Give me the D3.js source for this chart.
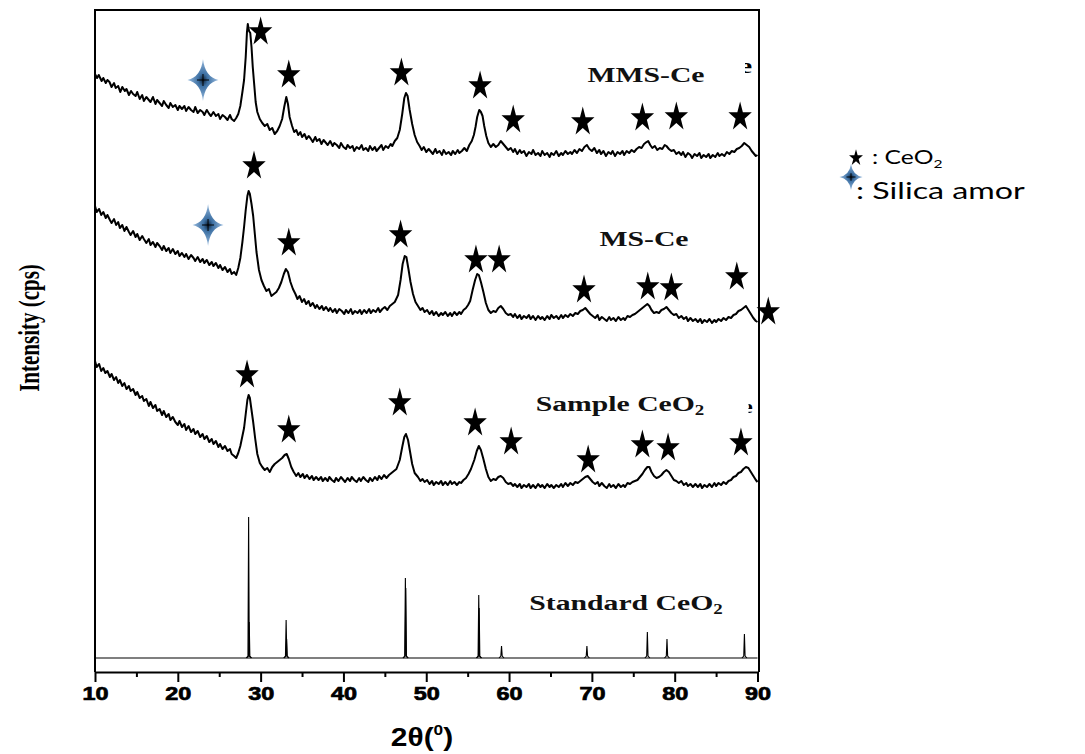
<!DOCTYPE html>
<html>
<head>
<meta charset="utf-8">
<script src="https://cdn.jsdelivr.net/npm/d3@7"></script>
<style>
  body { margin: 0; background: #fff; }
  svg { display: block; }
</style>
</head>
<body>
<div id="chart"></div>
<script>
// XRD patterns, [2theta, intensity a.u.] (stacked, offsets included)
var mmsCe = [[10.0,598],[10.25,594],[10.45,597],[10.8,591],[11.0,594],[11.3,589],[11.5,592],[11.75,590],[12.0,585],[12.3,589],
  [12.5,584],[12.8,586],[13.05,580],[13.3,585],[13.6,581],[13.8,583],[14.1,577],[14.35,581],[14.6,578],[14.9,576],
  [15.1,580],[15.4,573],[15.7,577],[15.9,571],[16.2,575],[16.5,572],[16.7,570],[17.0,575],[17.3,568],[17.5,572],
  [17.8,569],[18.1,566],[18.3,571],[18.6,567],[18.9,564],[19.1,569],[19.4,565],[19.7,567],[20.0,562],[20.2,566],
  [20.5,563],[20.8,566],[21.0,561],[21.3,565],[21.6,562],[21.9,560],[22.1,565],[22.4,559],[22.7,562],[23.0,560],
  [23.2,557],[23.5,562],[23.8,558],[24.0,556],[24.3,560],[24.6,556],[24.9,558],[25.1,553],[25.4,557],[25.7,555],
  [26.0,552],[26.3,557],[26.5,553],[26.8,551],[27.05,554],[27.3,558],[27.55,566],[27.8,580],[28.0,592],[28.2,615],
  [28.35,640],[28.45,648],[28.6,641],[28.75,639],[28.9,625],[29.05,605],[29.2,590],[29.4,570],[29.6,560],[29.9,553],
  [30.2,549],[30.5,546],[30.8,548],[31.1,542],[31.4,544],[31.7,538],[32.0,541],[32.3,546],[32.6,553],[32.85,565],
  [33.1,575],[33.3,568],[33.5,555],[33.8,546],[34.05,540],[34.3,542],[34.55,537],[34.8,540],[35.0,535],[35.3,538],
  [35.55,533],[35.8,536],[36.0,534],[36.3,530],[36.6,535],[36.8,531],[37.1,533],[37.35,528],[37.6,532],[37.9,529],
  [38.1,527],[38.4,531],[38.7,526],[38.9,529],[39.2,527],[39.5,524],[39.7,529],[40.0,525],[40.3,523],[40.5,527],
  [40.8,524],[41.1,526],[41.3,521],[41.6,525],[41.9,523],[42.2,527],[42.4,522],[42.7,524],[43.0,521],[43.2,526],
  [43.5,522],[43.8,525],[44.0,521],[44.3,524],[44.6,527],[44.8,522],[45.1,526],[45.4,524],[45.7,528],[45.9,526],
  [46.2,531],[46.5,534],[46.8,542],[47.1,558],[47.35,574],[47.55,579],[47.75,576],[48.0,562],[48.3,548],[48.6,537],
  [48.9,530],[49.2,526],[49.45,522],[49.7,525],[50.0,520],[50.3,523],[50.5,521],[50.8,518],[51.1,523],[51.3,519],
  [51.6,521],[51.9,517],[52.1,522],[52.4,518],[52.7,520],[53.0,517],[53.2,521],[53.5,518],[53.8,522],[54.0,519],
  [54.3,521],[54.6,524],[54.9,521],[55.2,527],[55.5,531],[55.75,537],[55.95,545],[56.15,555],[56.4,562],[56.6,560],
  [56.8,556],[57.0,546],[57.25,536],[57.5,529],[57.8,525],[58.1,528],[58.4,525],[58.7,527],[59.0,531],[59.3,528],
  [59.6,525],[59.9,522],[60.2,524],[60.5,520],[60.7,523],[61.0,518],[61.3,522],[61.5,519],[61.8,521],[62.1,516],
  [62.4,520],[62.7,518],[62.9,522],[63.2,517],[63.5,519],[63.8,516],[64.0,521],[64.3,517],[64.6,519],[64.9,515],
  [65.1,519],[65.4,517],[65.7,521],[66.0,516],[66.3,519],[66.5,517],[66.8,521],[67.1,518],[67.4,520],[67.6,518],
  [67.9,522],[68.2,519],[68.5,523],[68.8,521],[69.1,525],[69.4,527],[69.7,523],[70.0,521],[70.3,524],[70.6,519],
  [70.9,522],[71.1,518],[71.4,521],[71.7,516],[72.0,520],[72.3,518],[72.5,521],[72.8,516],[73.1,520],[73.4,518],
  [73.7,521],[73.9,517],[74.2,521],[74.5,519],[74.8,522],[75.1,520],[75.4,523],[75.7,525],[76.0,524],[76.3,528],
  [76.6,530],[76.8,531],[77.05,527],[77.3,524],[77.6,526],[77.9,522],[78.2,524],[78.5,523],[78.8,527],[79.0,526],
  [79.3,523],[79.6,521],[79.9,522],[80.2,518],[80.5,520],[80.8,517],[81.0,520],[81.3,515],[81.6,519],[81.9,517],
  [82.1,514],[82.4,518],[82.7,516],[83.0,519],[83.2,514],[83.5,517],[83.8,515],[84.1,518],[84.3,514],[84.6,517],
  [84.9,515],[85.2,519],[85.4,516],[85.7,518],[86.0,516],[86.3,520],[86.6,518],[86.9,521],[87.2,520],[87.5,523],
  [87.8,524],[88.1,526],[88.4,529],[88.7,527],[89.0,525],[89.3,521],[89.6,518],[89.8,516],[90.0,517]];

var msCe = [[10.0,466],[10.2,460],[10.5,463],[10.75,457],[11.0,460],[11.3,454],[11.5,457],[11.8,452],[12.0,449],[12.3,453],
  [12.55,447],[12.8,450],[13.0,444],[13.3,447],[13.55,441],[13.8,445],[14.1,440],[14.3,437],[14.6,441],[14.9,435],
  [15.1,438],[15.4,432],[15.7,436],[15.9,433],[16.2,429],[16.5,433],[16.7,427],[17.0,430],[17.3,425],[17.5,429],
  [17.8,426],[18.1,422],[18.3,426],[18.6,421],[18.9,424],[19.1,419],[19.4,423],[19.7,418],[20.0,421],[20.2,416],
  [20.5,419],[20.8,415],[21.0,418],[21.3,413],[21.6,417],[21.9,414],[22.1,411],[22.4,415],[22.7,410],[23.0,413],
  [23.2,409],[23.5,412],[23.8,407],[24.1,410],[24.3,406],[24.6,409],[24.9,404],[25.1,407],[25.4,402],[25.7,405],
  [26.0,400],[26.3,403],[26.5,398],[26.8,400],[27.05,397],[27.3,404],[27.55,414],[27.8,430],[28.0,445],[28.2,462],
  [28.4,476],[28.55,481],[28.7,478],[28.9,468],[29.1,456],[29.3,438],[29.5,420],[29.8,402],[30.1,392],[30.4,386],
  [30.7,381],[31.0,383],[31.3,376],[31.6,378],[31.9,380],[32.2,384],[32.5,390],[32.8,398],[33.05,403],[33.3,400],
  [33.6,390],[33.9,383],[34.2,378],[34.45,373],[34.7,376],[35.0,370],[35.25,373],[35.5,368],[35.8,371],[36.0,366],
  [36.3,369],[36.6,364],[36.8,367],[37.1,363],[37.4,366],[37.6,362],[37.9,365],[38.2,361],[38.4,364],[38.7,360],
  [39.0,363],[39.2,359],[39.5,363],[39.8,361],[40.1,358],[40.3,362],[40.6,359],[40.9,363],[41.1,358],[41.4,361],
  [41.7,359],[42.0,362],[42.2,358],[42.5,362],[42.8,359],[43.1,363],[43.3,359],[43.6,362],[43.9,360],[44.2,364],
  [44.4,360],[44.7,363],[45.0,365],[45.3,362],[45.6,366],[45.9,368],[46.2,370],[46.6,377],[46.9,392],[47.15,408],
  [47.4,416],[47.6,415],[47.85,403],[48.1,390],[48.4,378],[48.7,370],[49.0,366],[49.3,362],[49.55,364],[49.8,360],
  [50.1,362],[50.4,358],[50.7,361],[50.9,357],[51.2,360],[51.5,356],[51.8,359],[52.0,357],[52.3,360],[52.6,356],
  [52.9,359],[53.1,356],[53.4,360],[53.7,357],[54.0,360],[54.2,358],[54.5,362],[54.8,364],[55.05,367],[55.3,371],
  [55.6,382],[55.9,392],[56.15,398],[56.35,397],[56.6,390],[56.9,380],[57.2,369],[57.5,362],[57.8,359],[58.1,361],
  [58.4,360],[58.7,364],[59.0,366],[59.3,363],[59.6,359],[59.9,357],[60.2,358],[60.5,355],[60.7,358],[61.0,354],
  [61.3,357],[61.5,353],[61.8,356],[62.1,354],[62.4,357],[62.6,353],[62.9,356],[63.2,352],[63.5,356],[63.8,353],
  [64.0,355],[64.3,352],[64.6,356],[64.9,353],[65.1,357],[65.4,354],[65.7,356],[66.0,353],[66.3,357],[66.5,354],
  [66.8,357],[67.1,355],[67.4,358],[67.7,356],[68.0,359],[68.3,358],[68.6,361],[68.9,362],[69.2,364],[69.5,361],
  [69.8,358],[70.1,356],[70.4,354],[70.7,357],[70.9,352],[71.2,355],[71.5,353],[71.8,351],[72.1,355],[72.3,352],
  [72.6,354],[72.9,351],[73.2,355],[73.5,352],[73.8,354],[74.0,352],[74.3,356],[74.6,355],[74.9,357],[75.2,358],
  [75.5,360],[75.8,362],[76.1,364],[76.4,366],[76.7,368],[76.95,366],[77.2,362],[77.5,359],[77.8,360],[78.1,359],
  [78.4,362],[78.7,363],[79.0,365],[79.3,362],[79.6,359],[79.9,357],[80.2,358],[80.5,354],[80.8,356],[81.1,353],
  [81.4,355],[81.6,351],[81.9,354],[82.2,351],[82.5,353],[82.8,350],[83.1,353],[83.3,349],[83.6,352],[83.9,350],
  [84.2,353],[84.5,349],[84.8,352],[85.0,350],[85.3,353],[85.6,351],[85.9,354],[86.2,352],[86.5,355],[86.8,354],
  [87.1,357],[87.4,358],[87.7,361],[88.0,362],[88.3,364],[88.6,366],[88.9,362],[89.2,358],[89.5,354],[89.8,351],
  [90.0,350]];

var sampleCeO2 = [[10.0,311],[10.2,305],[10.5,308],[10.75,301],[11.0,304],[11.25,299],[11.5,301],[11.8,295],[12.0,298],[12.3,292],
  [12.55,295],[12.8,289],[13.0,292],[13.3,286],[13.55,289],[13.8,283],[14.1,286],[14.3,281],[14.6,283],[14.9,277],
  [15.1,280],[15.4,274],[15.7,276],[15.9,271],[16.2,273],[16.5,266],[16.7,270],[17.0,264],[17.3,267],[17.5,261],
  [17.8,263],[18.1,257],[18.3,261],[18.6,255],[18.9,258],[19.1,252],[19.4,255],[19.7,250],[20.0,247],[20.2,251],
  [20.5,245],[20.8,248],[21.0,242],[21.3,246],[21.6,240],[21.9,243],[22.1,238],[22.4,241],[22.7,235],[23.0,238],
  [23.2,233],[23.5,236],[23.8,230],[24.1,233],[24.3,228],[24.6,231],[24.9,225],[25.1,228],[25.4,223],[25.7,226],
  [26.0,221],[26.3,223],[26.5,218],[26.8,216],[27.05,214],[27.3,219],[27.55,226],[27.8,236],[28.0,244],[28.2,258],
  [28.4,272],[28.55,277],[28.7,274],[28.9,262],[29.1,250],[29.35,233],[29.6,218],[29.9,209],[30.2,205],[30.5,202],
  [30.8,204],[31.1,200],[31.4,205],[31.7,208],[32.0,210],[32.3,212],[32.6,214],[32.9,217],[33.15,218],[33.4,213],
  [33.7,205],[34.0,200],[34.3,196],[34.55,199],[34.8,195],[35.1,198],[35.3,194],[35.6,197],[35.9,193],[36.2,196],
  [36.4,192],[36.7,195],[37.0,192],[37.3,195],[37.5,191],[37.8,194],[38.1,191],[38.3,195],[38.6,192],[38.9,190],
  [39.1,194],[39.4,191],[39.7,195],[40.0,192],[40.2,190],[40.5,194],[40.8,191],[41.0,195],[41.3,192],[41.6,190],
  [41.9,194],[42.1,191],[42.4,195],[42.7,192],[43.0,190],[43.2,194],[43.5,191],[43.8,195],[44.1,192],[44.3,196],
  [44.6,193],[44.9,197],[45.2,194],[45.5,197],[45.8,199],[46.1,201],[46.4,203],[46.8,212],[47.1,225],[47.35,235],
  [47.55,238],[47.8,232],[48.05,220],[48.3,208],[48.6,199],[49.0,195],[49.3,191],[49.55,193],[49.8,190],[50.1,192],
  [50.4,188],[50.7,191],[50.9,187],[51.2,190],[51.5,188],[51.8,191],[52.0,187],[52.3,190],[52.6,187],[52.9,191],
  [53.1,188],[53.4,190],[53.7,187],[54.0,190],[54.2,189],[54.5,192],[54.8,194],[55.1,198],[55.4,203],[55.8,212],
  [56.1,221],[56.35,226],[56.6,222],[56.9,213],[57.2,203],[57.5,195],[57.8,191],[58.1,193],[58.4,192],[58.7,195],
  [59.0,196],[59.3,194],[59.6,190],[59.9,188],[60.2,189],[60.5,186],[60.7,188],[61.0,185],[61.3,188],[61.5,184],
  [61.8,187],[62.1,185],[62.4,188],[62.6,184],[62.9,187],[63.2,184],[63.5,188],[63.8,185],[64.0,187],[64.3,184],
  [64.6,188],[64.9,185],[65.1,187],[65.4,184],[65.7,187],[66.0,185],[66.3,188],[66.5,185],[66.8,189],[67.1,186],
  [67.4,189],[67.7,187],[68.0,190],[68.3,189],[68.6,191],[68.9,193],[69.2,195],[69.5,196],[69.8,193],[70.1,190],
  [70.4,188],[70.7,190],[70.9,186],[71.2,189],[71.5,186],[71.8,184],[72.1,188],[72.3,185],[72.6,187],[72.9,184],
  [73.2,188],[73.5,185],[73.8,187],[74.0,185],[74.3,189],[74.6,188],[74.9,190],[75.2,191],[75.5,192],[75.8,195],
  [76.1,198],[76.4,202],[76.7,205],[76.95,205],[77.2,200],[77.5,196],[77.8,194],[78.1,195],[78.4,197],[78.7,200],
  [79.0,202],[79.3,200],[79.6,196],[79.9,192],[80.2,191],[80.5,189],[80.8,191],[81.1,187],[81.4,189],[81.6,186],
  [81.9,188],[82.2,185],[82.5,188],[82.8,185],[83.1,188],[83.3,184],[83.6,187],[83.9,185],[84.2,188],[84.5,185],
  [84.8,189],[85.0,186],[85.3,189],[85.6,187],[85.9,190],[86.2,188],[86.5,191],[86.8,192],[87.1,195],[87.4,196],
  [87.7,199],[88.0,200],[88.3,203],[88.6,205],[88.9,204],[89.2,200],[89.5,196],[89.8,192],[90.0,190]];

// reference pattern: baseline level and line heights above it
var stdBase = 14;
var stdPeaks = [[28.55,141],[28.62,36],[33.08,38],[33.14,19],[47.48,80],[47.53,70],[56.34,63],[56.39,50],
  [59.09,12],[69.40,12],[76.70,26],[79.07,19],[88.42,24]];

// peak markers [2theta, intensity]
var mmsStars = [[30.0,640],[33.4,597],[47.0,599],[56.5,586],[60.5,552],[68.9,550],[76.1,554],[80.2,555],[87.9,555]];
var msStars = [[29.2,506],[33.4,429],[46.9,437],[56.0,412],[58.8,412],[69.05,382],[76.75,385],[79.6,384],[87.5,395],[91.3,360]];
var sampleStars = [[28.36,297],[33.4,242],[46.8,269],[55.9,249],[60.25,230],[69.55,212],[76.1,227],[79.2,224],[88.0,229]];
var silicaMarks = [[23.04,592],[23.65,447]];

var curveLabels = [
  { text: "MMS-Ce", sub: "", x: 646, y: 82 },
  { text: "MS-Ce", sub: "", x: 644, y: 246 },
  { text: "Sample CeO", sub: "2", x: 620, y: 411 },
  { text: "Standard CeO", sub: "2", x: 626, y: 610 }
];

var xTicks = [10, 20, 30, 40, 50, 60, 70, 80, 90];
var xMinorTicks = [15, 25, 35, 45, 55, 65, 75, 85];

var svg = d3.select("#chart")
  .append("svg")
  .attr("width", 1085)
  .attr("height", 754);

var x = d3.scaleLinear().domain([10, 90]).range([95, 757.5]);
var y = d3.scaleLinear().domain([0, 662]).range([672, 10]);

var defs = svg.append("defs");
var grad = defs.append("radialGradient").attr("id", "sparkle");
grad.append("stop").attr("offset", "0%").attr("stop-color", "#0e2238");
grad.append("stop").attr("offset", "30%").attr("stop-color", "#3d70a3");
grad.append("stop").attr("offset", "100%").attr("stop-color", "#9bbde0");

// frame
svg.append("path")
  .attr("d", `M${x(10)},${y(0)}V${y(662)}H${x(90) + 1.5}V${y(0)}`)
  .attr("fill", "none")
  .attr("stroke", "#000")
  .attr("stroke-width", 2);

// x axis
var xAxis = svg.append("g")
  .attr("transform", `translate(0, ${y(0)})`)
  .call(d3.axisBottom(x).tickValues(xTicks).tickSize(10).tickSizeOuter(0).tickFormat(d3.format("d")));
xAxis.attr("font-size", 18).attr("font-family", "'Liberation Sans', Arial, sans-serif");
xAxis.select(".domain").attr("stroke-width", 2);
xAxis.selectAll(".tick line").attr("stroke-width", 2);
xAxis.selectAll(".tick text")
  .attr("y", 15)
  .attr("dy", "0.71em")
  .attr("transform", "scale(1.3,1)")
  .attr("font-weight", "bold")
  .attr("stroke", "#000")
  .attr("stroke-width", 0.7)
  .attr("fill", "#000");

var xMinor = svg.append("g")
  .attr("transform", `translate(0, ${y(0)})`)
  .call(d3.axisBottom(x).tickValues(xMinorTicks).tickSize(5).tickFormat(""));
xMinor.select(".domain").remove();
xMinor.selectAll(".tick line").attr("stroke-width", 2);

// axis titles
var xTitle = svg.append("text")
  .attr("transform", "translate(422, 746) scale(1.15,1)")
  .attr("text-anchor", "middle")
  .style("font-family", "'Liberation Sans', Arial, sans-serif")
  .style("font-weight", "bold")
  .style("font-size", "26px");
xTitle.append("tspan").text("2θ(");
xTitle.append("tspan").attr("dy", -11).style("font-size", "15px").text("0");
xTitle.append("tspan").attr("dy", 11).text(")");

svg.append("text")
  .attr("transform", "translate(29, 328) scale(1.4,1) rotate(-90)")
  .attr("text-anchor", "middle")
  .attr("dy", "0.35em")
  .style("font-family", "'Liberation Serif', 'Times New Roman', serif")
  .style("font-weight", "bold")
  .style("font-size", "21px")
  .text("Intensity (cps)");

// patterns
var line = d3.line()
  .x(function (d) { return x(d[0]); })
  .y(function (d) { return y(d[1]); });

[mmsCe, msCe, sampleCeO2].forEach(function (series) {
  svg.append("path")
    .datum(series)
    .attr("d", line)
    .attr("fill", "none")
    .attr("stroke", "#000")
    .attr("stroke-width", 2)
    .attr("stroke-linejoin", "round");
});

svg.append("path")
  .datum([[10, stdBase], [90, stdBase]])
  .attr("d", line)
  .attr("stroke", "#000")
  .attr("stroke-width", 1.2);

svg.append("g").selectAll("path")
  .data(stdPeaks)
  .join("path")
  .attr("d", function (d) {
    return line([[d[0] - 0.3, stdBase], [d[0] - 0.08, stdBase + 2], [d[0], stdBase + d[1]],
      [d[0] + 0.08, stdBase + 2], [d[0] + 0.3, stdBase]]);
  })
  .attr("fill", "none")
  .attr("stroke", "#000")
  .attr("stroke-width", 1.1);

// curve labels
curveLabels.forEach(function (l) {
  var t = svg.append("text")
    .attr("transform", `translate(${l.x}, ${l.y}) scale(1.35,1)`)
    .attr("text-anchor", "middle")
    .style("font-family", "'Liberation Serif', 'Times New Roman', serif")
    .style("font-weight", "bold")
    .style("font-size", "22px")
    .attr("fill", "#111");
  t.append("tspan").text(l.text);
  if (l.sub) t.append("tspan").attr("dy", 4).style("font-size", "14px").text(l.sub);
});

// stray glyph fragments at the right edge
var clipA = defs.append("clipPath").attr("id", "fragA");
clipA.append("rect").attr("x", 745).attr("y", 55).attr("width", 10).attr("height", 25);
svg.append("g").attr("clip-path", "url(#fragA)")
  .append("text")
  .attr("transform", "translate(739, 73) scale(1.35,1)")
  .style("font-family", "'Liberation Serif', serif")
  .style("font-weight", "bold")
  .style("font-size", "22px")
  .text("e");
var clipB = defs.append("clipPath").attr("id", "fragB");
clipB.append("rect").attr("x", 748.5).attr("y", 398).attr("width", 5).attr("height", 18);
svg.append("g").attr("clip-path", "url(#fragB)")
  .append("text")
  .attr("transform", "translate(742, 413) scale(1.35,1)")
  .style("font-family", "'Liberation Serif', serif")
  .style("font-weight", "bold")
  .style("font-size", "18px")
  .text("e");

// markers
var star = d3.symbol().type(d3.symbolStar).size(170);
svg.append("g").selectAll("path")
  .data(mmsStars.concat(msStars, sampleStars))
  .join("path")
  .attr("d", star)
  .attr("transform", function (d) { return `translate(${x(d[0])}, ${y(d[1])}) scale(1,1.25)`; })
  .attr("fill", "#000");

var sparklePath = "M0,-21Q2,-3 15.5,0Q2,3 0,21Q-2,3 -15.5,0Q-2,-3 0,-21Z";
function drawSparkle(g, sx, sy) {
  g.append("path").attr("d", sparklePath).attr("fill", "url(#sparkle)")
    .attr("transform", `scale(${sx},${sy})`);
  g.append("path").attr("d", `M${-6 * sx},0H${6 * sx}M0,${-6 * sy}V${6 * sy}`)
    .attr("stroke", "#000").attr("stroke-width", 1);
}
svg.append("g").selectAll("g")
  .data(silicaMarks)
  .join("g")
  .attr("transform", function (d) { return `translate(${x(d[0])}, ${y(d[1])})`; })
  .each(function () { drawSparkle(d3.select(this), 1, 1); });

// legend
var legend = svg.append("g")
  .style("font-family", "Lato, 'Open Sans', sans-serif")
  .attr("fill", "#000");
legend.append("path")
  .attr("d", d3.symbol().type(d3.symbolStar).size(60)())
  .attr("transform", "translate(856, 158) scale(1,1.2)");
var lt = legend.append("text").attr("transform", "translate(872, 164) scale(1.3,1)").style("font-size", "19px");
lt.append("tspan").text(": CeO");
lt.append("tspan").attr("dy", 4).style("font-size", "12px").text("2");
drawSparkle(legend.append("g").attr("transform", "translate(851, 177)"), 0.75, 0.62);
legend.append("text").attr("transform", "translate(856, 199) scale(1.4,1)").style("font-size", "23px").text(": Silica amor");
</script>
</body>
</html>
